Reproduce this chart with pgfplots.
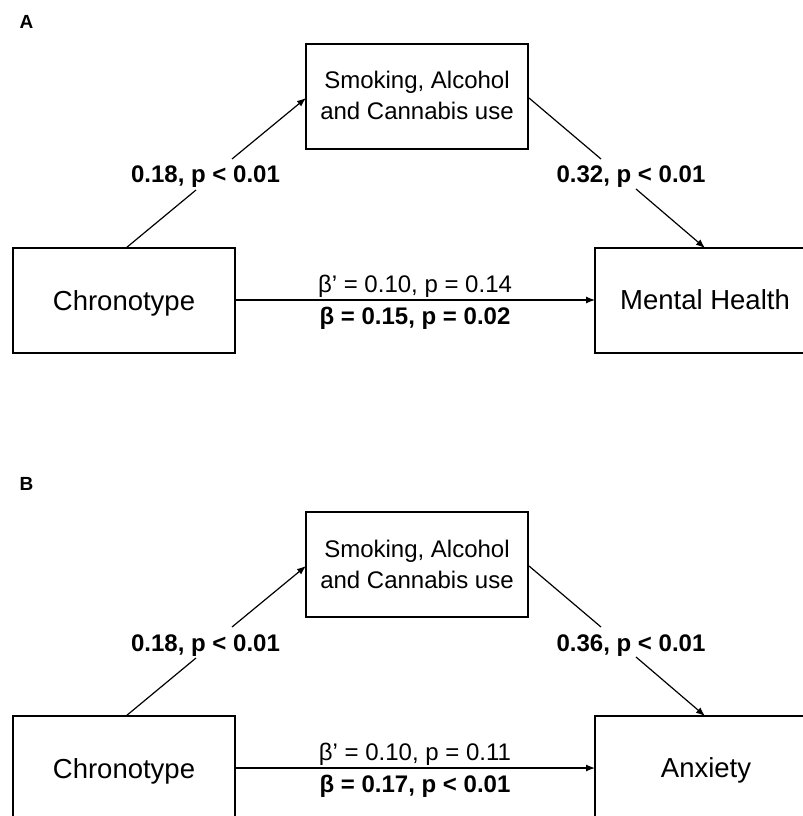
\documentclass[border=0pt]{standalone}
\usepackage{fontspec}
\setmainfont{Liberation Sans}
\usepackage{pgfplots}
\pgfplotsset{compat=1.18}
\usetikzlibrary{arrows.meta}
\begin{document}
\begin{tikzpicture}
\begin{axis}[width=803bp,height=816bp,scale only axis,axis lines=none,
  xmin=0,xmax=803,ymin=0,ymax=816,y dir=reverse,clip=true,
  cycle list={{black,solid,no markers}}]
\coordinate (SW) at (axis cs:0,816);
\coordinate (NE) at (axis cs:803,0);
\tikzset{ln/.style={black,solid,no markers,line width=1.2bp,line join=miter},
  arr/.style={ln,-{Latex[length=9bp,width=7bp]}}}
% ---------- Panel A ----------
\addplot[ln] coordinates {(13,248) (235,248) (235,353) (13,353) (13,248) (235,248)};
\addplot[ln] coordinates {(306,44) (528,44) (528,149) (306,149) (306,44) (528,44)};
\addplot[ln] coordinates {(803,248) (595,248) (595,353) (803,353)};
\addplot[ln] coordinates {(126,248) (196,190)};
\addplot[arr] coordinates {(232,159) (306,98)};
\addplot[ln] coordinates {(529,98) (601,159)};
\addplot[arr] coordinates {(636,189) (705,248)};
\addplot[arr] coordinates {(235,300) (595,300)};
\node[anchor=base west,font=\fontsize{19bp}{22bp}\selectfont\bfseries] at (axis cs:16,28.5) {A};
\node[anchor=base,font=\fontsize{27.5bp}{33bp}\selectfont] at (axis cs:124,310) {Chronotype};
\node[anchor=base,font=\fontsize{27.5bp}{33bp}\selectfont] at (axis cs:705,309) {Mental Health};
\node[anchor=base,font=\fontsize{24bp}{29bp}\selectfont] at (axis cs:417,89) {Smoking, Alcohol};
\node[anchor=base,font=\fontsize{24bp}{29bp}\selectfont] at (axis cs:417,120) {and Cannabis use};
\node[anchor=base,font=\fontsize{24bp}{29bp}\selectfont\bfseries] at (axis cs:205.5,183) {0.18, p < 0.01};
\node[anchor=base,font=\fontsize{24bp}{29bp}\selectfont\bfseries] at (axis cs:631,183) {0.32, p < 0.01};
\node[anchor=base,font=\fontsize{24bp}{29bp}\selectfont] at (axis cs:415,292) {β’ = 0.10, p = 0.14};
\node[anchor=base,font=\fontsize{24bp}{29bp}\selectfont\bfseries] at (axis cs:415,324) {β = 0.15, p = 0.02};
% ---------- Panel B ----------
\addplot[ln] coordinates {(13,816) (13,716) (235,716) (235,816)};
\addplot[ln] coordinates {(306,512) (528,512) (528,617) (306,617) (306,512) (528,512)};
\addplot[ln] coordinates {(803,716) (595,716) (595,816)};
\addplot[ln] coordinates {(126,716) (196,658)};
\addplot[arr] coordinates {(232,627) (306,566)};
\addplot[ln] coordinates {(529,566) (601,627)};
\addplot[arr] coordinates {(636,657) (705,716)};
\addplot[arr] coordinates {(235,768) (595,768)};
\node[anchor=base west,font=\fontsize{19bp}{22bp}\selectfont\bfseries] at (axis cs:16,490) {B};
\node[anchor=base,font=\fontsize{27.5bp}{33bp}\selectfont] at (axis cs:124,778) {Chronotype};
\node[anchor=base,font=\fontsize{27.5bp}{33bp}\selectfont] at (axis cs:706,777) {Anxiety};
\node[anchor=base,font=\fontsize{24bp}{29bp}\selectfont] at (axis cs:417,557) {Smoking, Alcohol};
\node[anchor=base,font=\fontsize{24bp}{29bp}\selectfont] at (axis cs:417,588) {and Cannabis use};
\node[anchor=base,font=\fontsize{24bp}{29bp}\selectfont\bfseries] at (axis cs:205.5,651) {0.18, p < 0.01};
\node[anchor=base,font=\fontsize{24bp}{29bp}\selectfont\bfseries] at (axis cs:631,651) {0.36, p < 0.01};
\node[anchor=base,font=\fontsize{24bp}{29bp}\selectfont] at (axis cs:415,760) {β’ = 0.10, p = 0.11};
\node[anchor=base,font=\fontsize{24bp}{29bp}\selectfont\bfseries] at (axis cs:415,792) {β = 0.17, p < 0.01};
\end{axis}
\pgfresetboundingbox
\useasboundingbox (SW) rectangle (NE);
\end{tikzpicture}
\end{document}
